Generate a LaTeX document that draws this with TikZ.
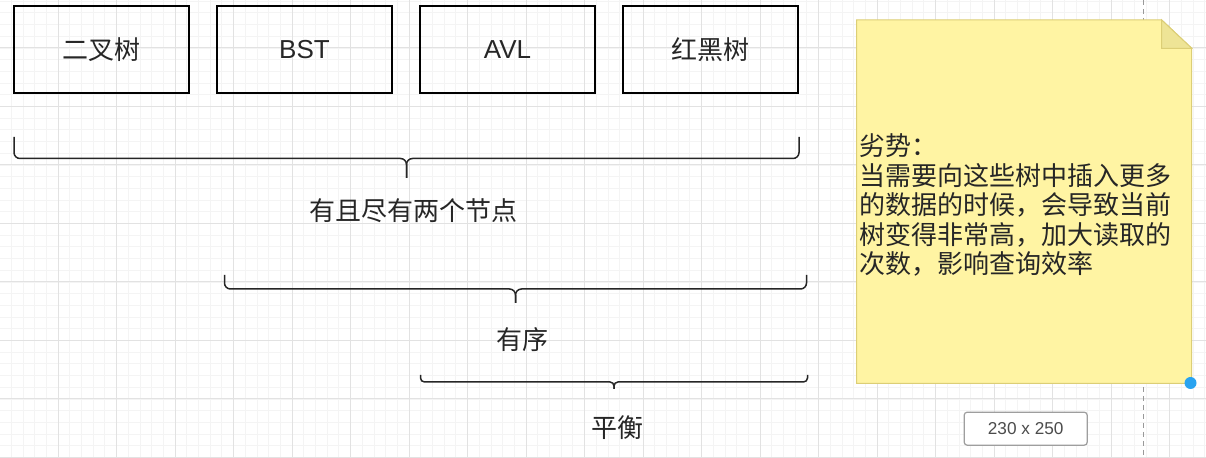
\documentclass[tikz,border=0pt]{standalone}
\usepackage{fontspec}
\setmainfont{Liberation Sans}
\newfontfamily\cjk{Noto Sans CJK SC}
\usetikzlibrary{positioning}
\definecolor{noteFill}{RGB}{255,244,163}
\definecolor{noteFold}{RGB}{238,228,150}
\definecolor{noteLine}{RGB}{220,206,118}
\definecolor{gridMinor}{RGB}{244,244,244}
\definecolor{gridMajor}{RGB}{226,226,226}
\definecolor{handleBlue}{RGB}{41,163,240}
\definecolor{inkGray}{RGB}{38,38,38}

\begin{document}
\begin{tikzpicture}[
    x=0.5pt, y=-0.5pt,
    node distance=14pt and 14pt,
    treebox/.style={rectangle, draw=black, line width=0.75pt, minimum width=87.5pt, minimum height=43.5pt, outer sep=0pt, inner sep=0pt, font=\fontsize{13}{15}\selectfont, text=inkGray},
    lbl/.style={font=\cjk\fontsize{13}{15}\selectfont, text=inkGray, inner sep=0pt},
    bracket/.style={draw=inkGray, line width=0.75pt, rounded corners=#1},
    notetext/.style={font=\cjk\fontsize{13}{14.75}\selectfont, text=inkGray, align=left, inner sep=0pt},
    sizebox/.style={rectangle, rounded corners=1.5pt, draw=black!38, fill=white, line width=0.6pt, minimum width=61.5pt, minimum height=16.5pt, inner sep=0pt, text=black!70, font=\fontsize{8.6}{10}\selectfont}
]
\useasboundingbox (0,0) rectangle (1206,458);
\fill[white] (0,0) rectangle (1206,458);
\foreach \i in {0,...,103} \draw[gridMinor, line width=0.4pt] ({-0.5+11.7*\i},0) -- ({-0.5+11.7*\i},458);
\foreach \j in {0,...,39} \draw[gridMinor, line width=0.4pt] (0,{1.2+11.7*\j}) -- (1206,{1.2+11.7*\j});
\foreach \i in {0,...,20} \draw[gridMajor, line width=0.5pt] ({-0.5+58.5*\i},0) -- ({-0.5+58.5*\i},458);
\foreach \j in {0,...,7} \draw[gridMajor, line width=0.5pt] (0,{48+58.5*\j}) -- (1206,{48+58.5*\j});

\node[treebox] (bt) at (101.5,49.5) {\cjk 二叉树};
\node[treebox, right=of bt] (bst) {BST};
\node[treebox, right=of bst] (avl) {AVL};
\node[treebox, right=of avl] (rbt) {\cjk 红黑树};

\coordinate (b1l) at (14,137);
\coordinate (b1r) at (799,137);
\coordinate (b1m) at (406.5,158.5);
\coordinate (b1t) at (406.5,178);
\draw[bracket=3pt] (b1l) |- (b1m) -- (b1t);
\draw[bracket=3pt] (b1r) |- (b1m) -- (b1t);

\coordinate (b2l) at (224.5,275);
\coordinate (b2r) at (806.5,275);
\coordinate (b2m) at (515.5,289);
\coordinate (b2t) at (515.5,303);
\draw[bracket=3pt] (b2l) |- (b2m) -- (b2t);
\draw[bracket=3pt] (b2r) |- (b2m) -- (b2t);

\coordinate (b3l) at (420.5,375);
\coordinate (b3r) at (807.5,375);
\coordinate (b3m) at (614,382);
\coordinate (b3t) at (614,389);
\draw[bracket=2pt] (b3l) |- (b3m) -- (b3t);
\draw[bracket=2pt] (b3r) |- (b3m) -- (b3t);

\node[lbl] (twokids) at (413,211) {有且尽有两个节点};
\node[lbl] (ordered) at (522,340) {有序};
\node[lbl] (balanced) at (617,428) {平衡};

\coordinate (guideTop) at (1143.3,0);
\coordinate (guideBot) at (1143.3,458);
\draw[black!40, line width=0.6pt, dash pattern=on 2.5pt off 2pt] (guideTop) -- (guideBot);

\draw[noteLine, fill=noteFill, line width=0.5pt] (856.7,20) -- (1161.7,20) -- (1191.7,48.3) -- (1191.7,383.3) -- (856.7,383.3) -- cycle;
\draw[noteLine, fill=noteFold, line width=0.5pt] (1161.7,20) -- (1161.7,48.3) -- (1191.7,48.3) -- cycle;
\node[notetext, anchor=west] (weakness) at (859,205) {劣势：\\当需要向这些树中插入更多\\的数据的时候，会导致当前\\树变得非常高，加大读取的\\次数，影响查询效率};

\node[circle, fill=handleBlue, minimum size=6pt, inner sep=0pt] (handle) at (1190.5,383) {};
\node[sizebox] (dims) at (1025.7,428.7) {230 x 250};
\end{tikzpicture}
\end{document}
